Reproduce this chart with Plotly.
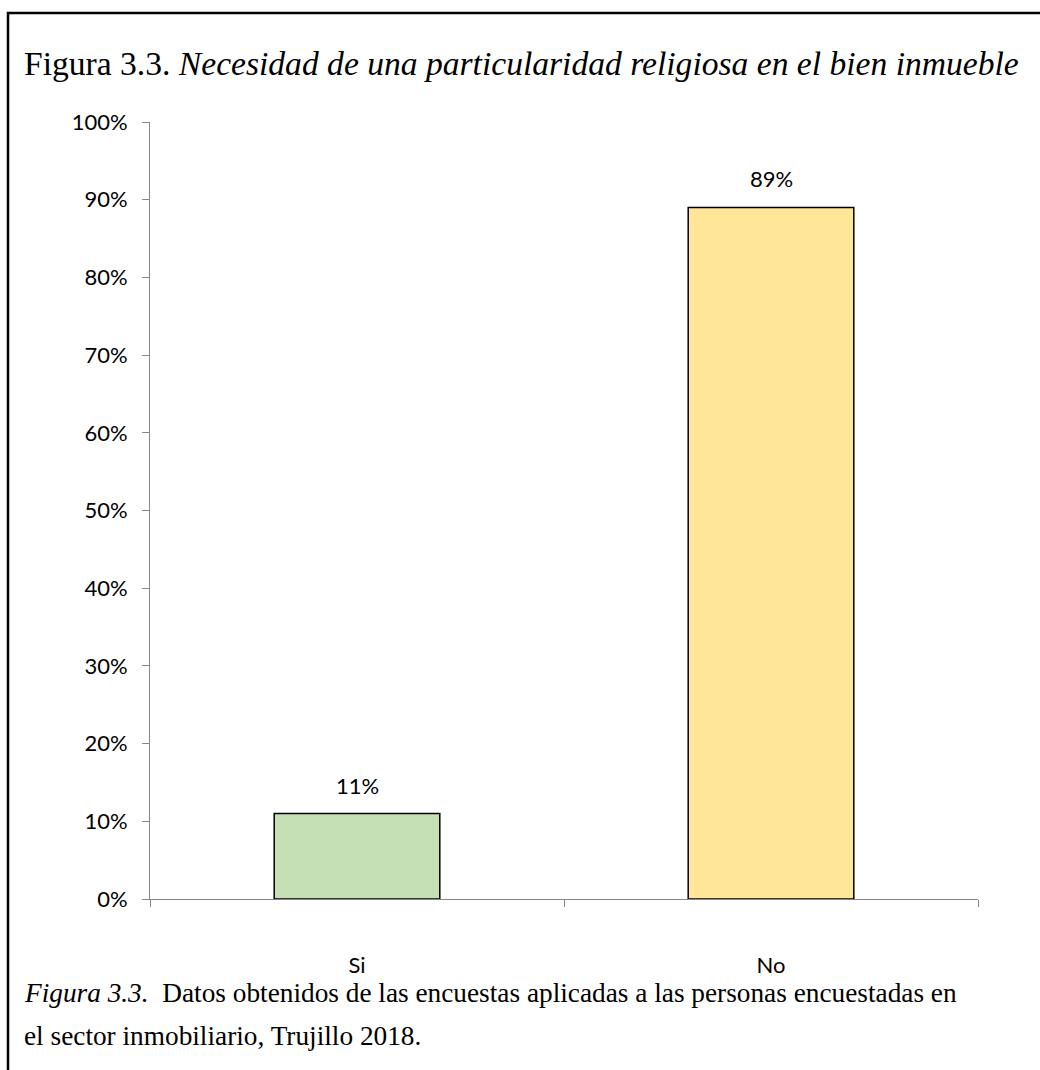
import plotly.graph_objects as go

categories = ["Si", "No"]
values = [0.11, 0.89]
bar_colors = ["#C5E0B4", "#FFE699"]
y_ticks = [0, 0.1, 0.2, 0.3, 0.4, 0.5, 0.6, 0.7, 0.8, 0.9, 1.0]
title_plain = "Figura 3.3. "
title_italic = "Necesidad de una particularidad religiosa en el bien inmueble"
caption_line1_italic = "Figura 3.3."
caption_line1 = "  Datos obtenidos de las encuestas aplicadas a las personas encuestadas en"
caption_line2 = "el sector inmobiliario, Trujillo 2018."

W, H = 1040, 1070
L, R, T, B = 150, 62, 122, 171
pw, ph = W - L - R, H - T - B

def px_x(px):
    return (px - L) / pw

def px_y(py):
    return (H - B - py) / ph

fig = go.Figure()
fig.add_trace(go.Bar(
    x=categories, y=values,
    marker=dict(color=bar_colors, line=dict(color="#000000", width=1.5)),
    width=0.4,
    hoverinfo="skip",
))

tick_font = dict(family="Lato, 'Open Sans', sans-serif", size=22, color="#000000")

for c, v in zip(categories, values):
    fig.add_annotation(x=c, y=v, text=f"{round(v*100)}%", showarrow=False,
                       yanchor="bottom", yshift=13, font=tick_font)

fig.update_layout(
    width=W, height=H,
    margin=dict(l=L, r=R, t=T, b=B, pad=0),
    paper_bgcolor="#ffffff", plot_bgcolor="#ffffff",
    showlegend=False,
    bargap=0.6,
)
fig.update_xaxes(
    type="category", showgrid=False, showline=True, linecolor="#868686", linewidth=1,
    ticks="outside", tickson="boundaries", ticklen=7, tickcolor="#868686",
    tickfont=tick_font, ticklabelstandoff=47, fixedrange=True,
)
fig.update_yaxes(
    range=[0, 1], tickvals=y_ticks, tickformat=".0%", showgrid=False, zeroline=False,
    showline=True, linecolor="#868686", linewidth=1,
    ticks="outside", ticklen=7, tickcolor="#868686", tickfont=tick_font,
    ticklabelstandoff=10, fixedrange=True,
)

# frame around figure
fig.add_shape(type="line", xref="paper", yref="paper",
              x0=px_x(7), x1=px_x(1045), y0=px_y(13), y1=px_y(13),
              line=dict(color="#000000", width=2.5))
fig.add_shape(type="line", xref="paper", yref="paper",
              x0=px_x(8), x1=px_x(8), y0=px_y(12), y1=px_y(1075),
              line=dict(color="#000000", width=2.5))

serif = "'Liberation Serif', 'Times New Roman', serif"
fig.add_annotation(xref="paper", yref="paper", x=px_x(22), y=px_y(84),
                   xanchor="left", yanchor="bottom", showarrow=False,
                   text=f"{title_plain}<i>{title_italic}</i>",
                   font=dict(family=serif, size=33.6, color="#000000"))
fig.add_annotation(xref="paper", yref="paper", x=px_x(22), y=px_y(1010),
                   xanchor="left", yanchor="bottom", showarrow=False,
                   text=f"<i>{caption_line1_italic}</i>{caption_line1}",
                   font=dict(family=serif, size=27.3, color="#000000"))
fig.add_annotation(xref="paper", yref="paper", x=px_x(22), y=px_y(1053),
                   xanchor="left", yanchor="bottom", showarrow=False,
                   text=caption_line2,
                   font=dict(family=serif, size=27.3, color="#000000"))

fig.write_html("out.html", config={"displayModeBar": False})
